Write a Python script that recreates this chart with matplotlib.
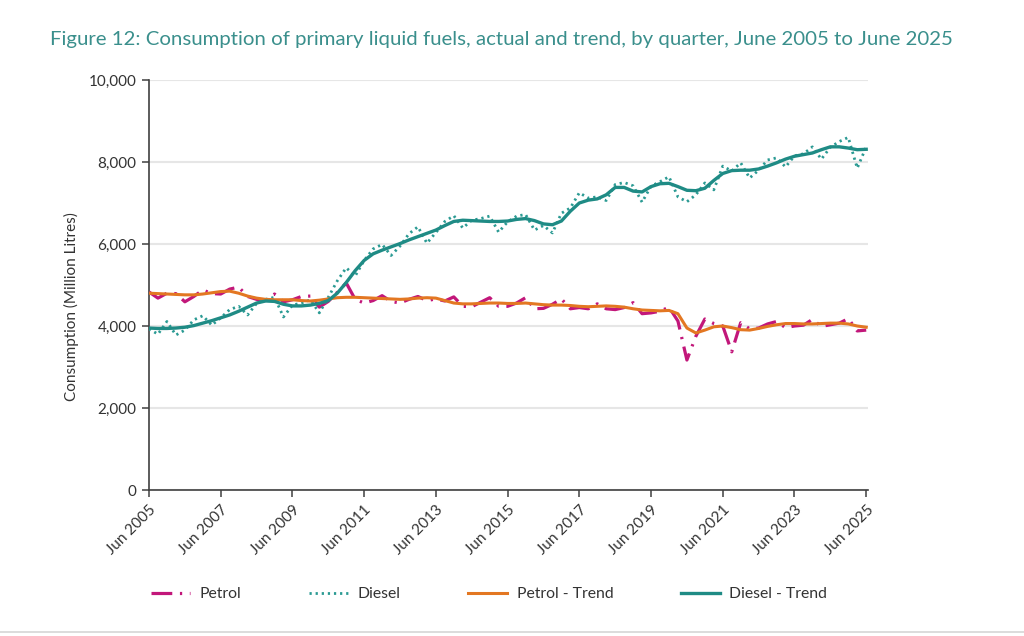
import matplotlib
matplotlib.use("Agg")
import matplotlib.pyplot as plt
import numpy as np
import pandas as pd

quarters = [str(p) for p in pd.period_range("2005Q2", "2025Q2", freq="Q")]

petrol = [4830, 4680, 4800, 4790, 4590, 4720, 4880, 4790, 4780, 4900,
          4950, 4720, 4650, 4620, 4780, 4590, 4640, 4720, 4730, 4460,
          4600, 4820, 5050, 4650, 4560, 4620, 4740, 4600, 4560, 4650,
          4720, 4620, 4660, 4610, 4710, 4480, 4470, 4580, 4690, 4480,
          4480, 4560, 4690, 4420, 4430, 4530, 4660, 4420, 4450, 4420,
          4540, 4420, 4400, 4450, 4570, 4300, 4320, 4360, 4460, 4120,
          3170, 3750, 4170, 4060, 4000, 3370, 4080, 3930, 3950, 4050,
          4110, 3960, 4000, 4020, 4160, 3990, 4030, 4070, 4180, 3880,
          3900]

diesel = [3930, 3800, 4110, 3780, 3900, 4150, 4250, 4020, 4200, 4400,
          4480, 4270, 4550, 4650, 4700, 4220, 4510, 4560, 4640, 4320,
          4700, 5100, 5420, 5220, 5600, 5880, 5990, 5720, 5950, 6250,
          6420, 6020, 6280, 6550, 6690, 6390, 6580, 6620, 6680, 6290,
          6540, 6680, 6720, 6340, 6450, 6270, 6750, 6880, 7250, 7120,
          7150, 7060, 7450, 7500, 7420, 7020, 7410, 7520, 7640, 7150,
          7030, 7200, 7490, 7320, 7900, 7780, 7980, 7610, 7800, 8050,
          8100, 7880, 8150, 8200, 8370, 8070, 8360, 8500, 8600, 7850,
          8370]

petrol_trend = [4800, 4790, 4780, 4770, 4760, 4760, 4780, 4810, 4840, 4850,
                4800, 4730, 4680, 4650, 4640, 4640, 4640, 4620, 4610, 4630,
                4660, 4690, 4700, 4700, 4690, 4680, 4670, 4660, 4650, 4660,
                4680, 4690, 4680, 4620, 4560, 4540, 4540, 4550, 4560, 4560,
                4550, 4550, 4560, 4540, 4520, 4510, 4510, 4500, 4480, 4470,
                4480, 4490, 4480, 4460, 4420, 4390, 4380, 4370, 4380, 4300,
                3950, 3830, 3900, 3980, 4000, 3960, 3910, 3900, 3940, 3990,
                4030, 4060, 4060, 4050, 4050, 4060, 4070, 4070, 4050, 4000,
                3970]

diesel_trend = [3950, 3940, 3940, 3950, 3970, 4010, 4070, 4130, 4200, 4270,
                4360, 4460, 4560, 4610, 4600, 4530, 4490, 4490, 4510, 4550,
                4620, 4800, 5060, 5350, 5600, 5760, 5850, 5930, 6010, 6100,
                6180, 6260, 6340, 6450, 6550, 6580, 6570, 6560, 6550, 6550,
                6560, 6600, 6620, 6570, 6490, 6470, 6560, 6800, 7000, 7070,
                7100, 7200, 7380, 7380, 7290, 7270, 7400, 7470, 7480, 7400,
                7310, 7300, 7360, 7550, 7720, 7790, 7800, 7800, 7830, 7900,
                7980, 8070, 8140, 8180, 8220, 8300, 8370, 8370, 8340, 8300,
                8310]

tick_labels = ["Jun 2005", "Jun 2007", "Jun 2009", "Jun 2011", "Jun 2013",
               "Jun 2015", "Jun 2017", "Jun 2019", "Jun 2021", "Jun 2023",
               "Jun 2025"]
y_ticks = [0, 2000, 4000, 6000, 8000, 10000]

FONT = ["Lato", "DejaVu Sans"]
plt.rcParams["font.family"] = FONT

W, H = 1024, 636
fig = plt.figure(figsize=(W / 100, H / 100), dpi=100)
ax = fig.add_axes([149 / W, 1 - 490 / H, 719 / W, 410 / H])

x = np.arange(len(quarters))

c_petrol = "#C2177A"
c_diesel = "#2A9A93"
c_ptrend = "#E37722"
c_dtrend = "#1F8B85"

ax.plot(x, petrol, color=c_petrol, lw=2.3, linestyle=(0, (6.5, 2.4, 0.7, 2.4)),
        label="Petrol", zorder=3)
ax.plot(x, diesel, color=c_diesel, lw=2.0, linestyle=(0, (0.8, 1.4)),
        label="Diesel", zorder=3)
ax.plot(x, petrol_trend, color=c_ptrend, lw=2.2, label="Petrol - Trend", zorder=4)
ax.plot(x, diesel_trend, color=c_dtrend, lw=2.4, label="Diesel - Trend", zorder=5)

ax.set_xlim(0, 80.2)
ax.set_ylim(0, 10000)
ax.set_yticks(y_ticks)
ax.set_yticklabels([f"{v:,}" for v in y_ticks])
tick_pos = [quarters.index(f"{lab[-4:]}Q2") for lab in tick_labels]
ax.set_xticks(tick_pos)
ax.set_xticklabels(tick_labels, rotation=45, ha="right", rotation_mode="anchor")

ax.grid(axis="y", color="#E6E6E6", lw=1.5, zorder=0)
ax.set_axisbelow(True)
for s in ["top", "right"]:
    ax.spines[s].set_visible(False)
for s in ["left", "bottom"]:
    ax.spines[s].set_color("#404040")
    ax.spines[s].set_linewidth(1.2)
ax.tick_params(axis="both", colors="#404040", labelcolor="#333333",
               labelsize=11, length=5, width=1.1)
ax.tick_params(axis="x", pad=4)
ax.tick_params(axis="y", pad=4)

ax.set_ylabel("Consumption (Million Litres)", fontsize=11, color="#333333")
ax.yaxis.set_label_coords(-70 / 719, (490 - 307) / 410)

leg = fig.legend(loc="center", bbox_to_anchor=(489 / W, 1 - 594 / H), ncol=4,
                 frameon=False, fontsize=11.3, handlelength=2.5,
                 columnspacing=4.3, handletextpad=0.6)
for t in leg.get_texts():
    t.set_color("#333333")

title = fig.text(50 / W, 1 - 40 / H,
                 "Figure 12: Consumption of primary liquid fuels, actual and trend, by quarter, June 2005 to June 2025",
                 color="#3A8F8C", fontsize=14, ha="left", va="center")
fig.canvas.draw()
r = fig.canvas.get_renderer()
bb = title.get_window_extent(r)
title.set_fontsize(14 * 905 / bb.width)

fig.add_artist(plt.Line2D([0, 1], [1 - 632 / H, 1 - 632 / H],
                          transform=fig.transFigure, color="#D6D6D6", lw=1.2))

fig.savefig("out.png", dpi=100)
